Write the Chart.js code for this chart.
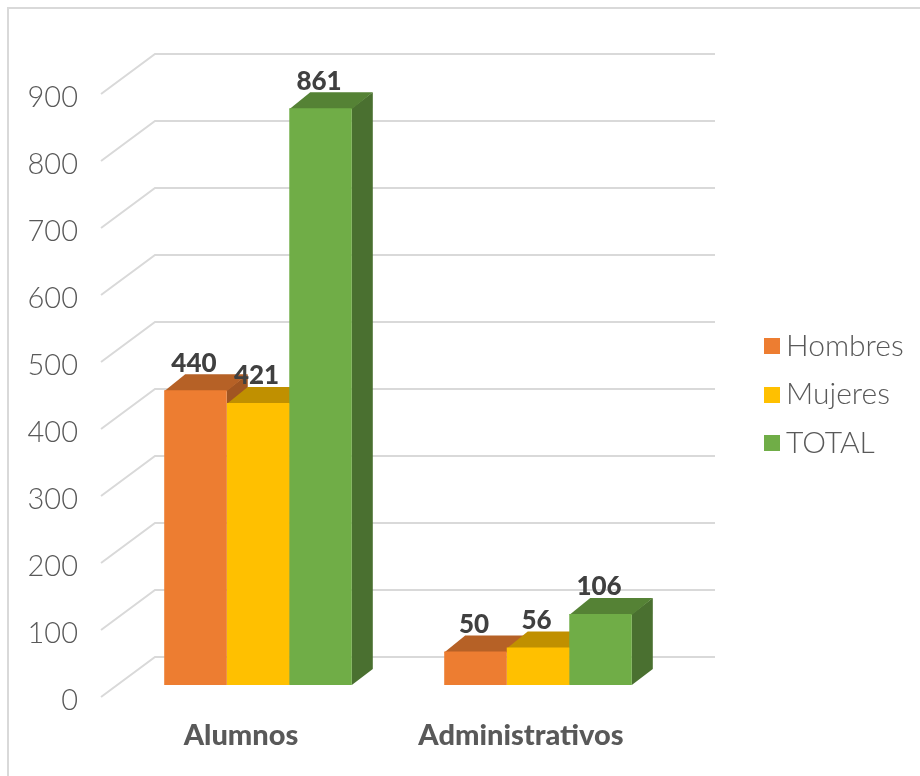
<!DOCTYPE html>
<html>
<head>
<meta charset="utf-8">
<style>
  html, body { margin: 0; padding: 0; background: #fff; }
  #grafico-wrap { position: relative; width: 920px; height: 776px; overflow: hidden; }
  #grafico-borde { position: absolute; left: 7px; top: 7px; width: 920px; height: 776px; border: 2px solid #d9d9d9; }
  canvas { position: absolute; left: 0; top: 0; }
</style>
</head>
<body>
<div id="grafico-wrap">
  <div id="grafico-borde"></div>
  <canvas id="grafico-barras" width="920" height="776"></canvas>
</div>
<script src="https://cdn.jsdelivr.net/npm/chart.js@4"></script>
<script>
const categorias = ['Alumnos', 'Administrativos'];
const hombres = [440, 50];
const mujeres = [421, 56];
const total = [861, 106];
const ticksY = [0, 100, 200, 300, 400, 500, 600, 700, 800, 900];

// profundidad falsa 3D
const fondoX = 54, fondoY = -40;
const barraX = 21, barraY = -16;
const frenteX = 17, frenteY = -12;
const finGrid = 715;

// suelo y paredes
function dibujarGrid(chart) {
  const { ctx, scales: { x, y } } = chart;
  ctx.save();
  ctx.strokeStyle = '#d9d9d9';
  ctx.lineWidth = 2;
  ticksY.forEach(function (v) {
    const py = y.getPixelForValue(v);
    ctx.beginPath();
    ctx.moveTo(x.left, py);
    ctx.lineTo(x.left + fondoX, py + fondoY);
    ctx.lineTo(finGrid, py + fondoY);
    ctx.stroke();
  });
  ctx.restore();
}

function poligono(ctx, color, puntos) {
  ctx.fillStyle = color;
  ctx.beginPath();
  puntos.forEach(function (p, i) {
    if (i === 0) ctx.moveTo(p[0], p[1]);
    else ctx.lineTo(p[0], p[1]);
  });
  ctx.closePath();
  ctx.fill();
}

const plugin3d = {
  id: 'barras3d',
  beforeDatasetsDraw(chart) {
    const ctx = chart.ctx;
    dibujarGrid(chart);
    ctx.save();
    ctx.translate(frenteX, frenteY);
    categorias.forEach(function (c, i) {
      chart.data.datasets.forEach(function (ds, d) {
        const el = chart.getDatasetMeta(d).data[i];
        const l = el.x - el.width / 2, r = el.x + el.width / 2;
        poligono(ctx, ds.caraLateral, [[r, el.y], [r + barraX, el.y + barraY], [r + barraX, el.base + barraY], [r, el.base]]);
        // un pixel de mas por debajo, lo tapa la cara frontal
        poligono(ctx, ds.caraSuperior, [[l, el.y + 1], [l + barraX, el.y + barraY], [r + barraX, el.y + barraY], [r, el.y + 1]]);
      });
    });
  },
  afterDatasetsDraw(chart) {
    const ctx = chart.ctx;
    ctx.restore();
    // etiquetas de valor
    ctx.save();
    ctx.font = '900 26px Lato';
    ctx.fillStyle = '#404040';
    ctx.textAlign = 'center';
    ctx.textBaseline = 'middle';
    chart.data.datasets.forEach(function (ds, d) {
      chart.getDatasetMeta(d).data.forEach(function (el, i) {
        ctx.fillText(ds.data[i], el.x + frenteX - 1.5, el.y + frenteY - 27);
      });
    });
    ctx.restore();
    // leyenda
    ctx.save();
    ctx.font = '300 30px Lato';
    ctx.textBaseline = 'middle';
    chart.data.datasets.forEach(function (ds, d) {
      const ly = 346 + d * 48.5;
      ctx.fillStyle = ds.backgroundColor;
      ctx.fillRect(764, Math.round(ly - 8), 16, 16);
      ctx.fillStyle = '#595959';
      ctx.fillText(ds.label, 786, ly);
    });
    ctx.restore();
  }
};

const ctxBarras = document.getElementById('grafico-barras');
new Chart(ctxBarras, {
  type: 'bar',
  data: {
    labels: categorias,
    datasets: [
      { label: 'Hombres', data: hombres, backgroundColor: '#ed7d31', caraSuperior: '#b66126', caraLateral: '#a15522' },
      { label: 'Mujeres', data: mujeres, backgroundColor: '#ffc000', caraSuperior: '#c09000', caraLateral: '#ad8200' },
      { label: 'TOTAL', data: total, backgroundColor: '#70ad47', caraSuperior: '#558235', caraLateral: '#4a7030' }
    ]
  },
  plugins: [plugin3d],
  options: {
    responsive: false,
    animation: false,
    layout: { padding: { left: 0, right: 259, top: 94, bottom: 0 } },
    plugins: { legend: { display: false }, tooltip: { enabled: false } },
    datasets: { bar: { categoryPercentage: 0.67, barPercentage: 1, clip: false } },
    scales: {
      x: {
        grid: { display: false },
        border: { display: false },
        ticks: { color: '#595959', font: { family: 'Lato', size: 29, weight: '900' }, padding: 13, maxRotation: 0 },
        afterFit(scale) { scale.height = 79; }
      },
      y: {
        min: 0,
        max: 900,
        grid: { display: false },
        border: { display: false },
        ticks: { stepSize: 100, color: '#595959', font: { family: 'Lato', size: 29, weight: '300' }, padding: 15, labelOffset: 4 },
        afterFit(scale) { scale.width = 101; }
      }
    }
  }
});
</script>
</body>
</html>
